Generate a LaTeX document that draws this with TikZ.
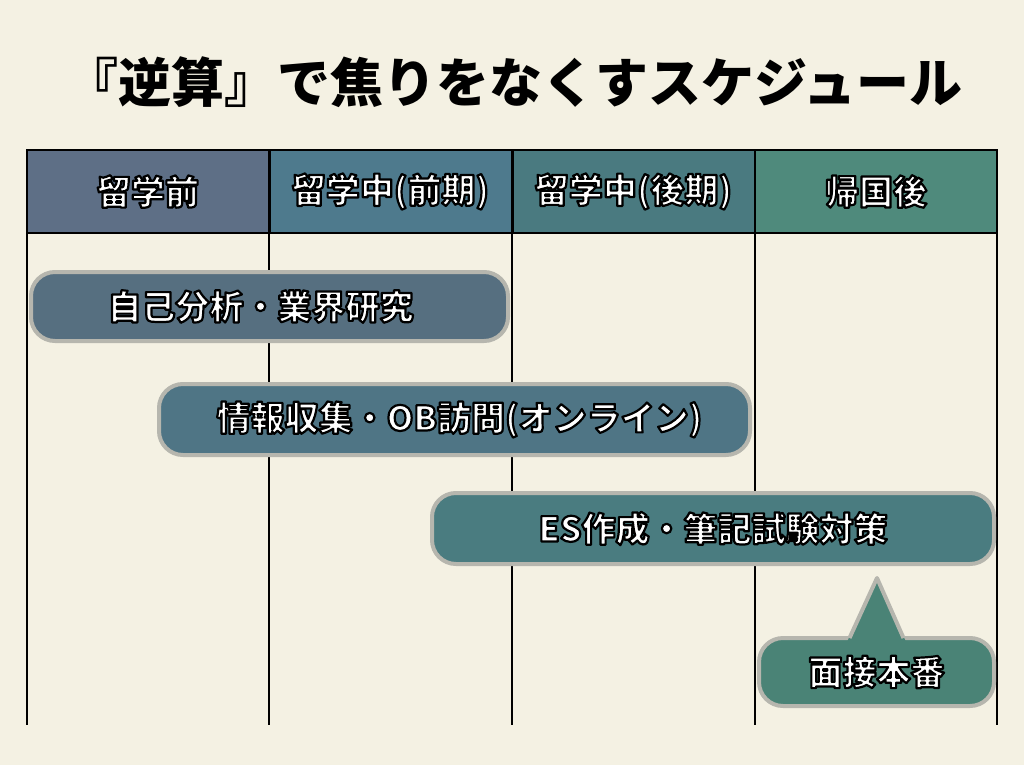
\documentclass[tikz,border=0pt]{standalone}
\usepackage{fontspec}
\setmainfont{Noto Sans CJK JP}
\usepackage{tikz}
\usetikzlibrary{positioning}
\usepackage{xcolor}
\definecolor{bgcream}{HTML}{F4F1E3}
\definecolor{headA}{HTML}{5E6F86}
\definecolor{headB}{HTML}{4E7A8D}
\definecolor{headC}{HTML}{4A7A80}
\definecolor{headD}{HTML}{4F8A7C}
\definecolor{barA}{HTML}{566F80}
\definecolor{barB}{HTML}{4F7585}
\definecolor{barC}{HTML}{4A7C80}
\definecolor{barD}{HTML}{4A8376}
\definecolor{barline}{HTML}{B6B6AE}
% white letters with a thin black rim
\newcommand{\outlined}[1]{\special{pdf:literal direct 1 j 2.2 w 0 G 2 Tr}#1\special{pdf:literal direct 0 Tr 0.4 w 0 j}}

\begin{document}
\begin{tikzpicture}[x=1pt, y=-1pt,
  head/.style={draw=black, line width=2pt, minimum width=242pt,
    minimum height=83pt, inner sep=0pt, outer sep=0pt, text=white,
    font=\fontsize{34}{38}\selectfont\bfseries},
  bar/.style={draw=barline, line width=4pt, rounded corners=24pt,
    inner sep=0pt, outer sep=0pt, minimum height=70pt, text=white,
    font=\fontsize{34}{38}\selectfont\bfseries},
  col/.style={line width=2pt}
]

% Page
\fill[bgcream] (0,0) rectangle (1024,765);
\useasboundingbox (0,0) rectangle (1024,765);

% Title
\node[font=\fontsize{53}{58}\selectfont\bfseries] (title) at (514,82)
  {『逆算』で焦りをなくすスケジュール};

% Header row: four phases
\node[head, fill=headA] (pre) at (148,191.5) {\outlined{留学前}};
\node[head, fill=headB] (early) at (390.5,191.5) {\outlined{留学中(前期)}};
\node[head, fill=headC] (late) at (633.5,191.5) {\outlined{留学中(後期)}};
\node[head, fill=headD] (post) at (876,191.5) {\outlined{帰国後}};

% Column lines
\coordinate (bot) at (0,725);
\foreach \c/\a in {pre/south west, pre/south east, early/south east,
  late/south east, post/south east}
  \draw[col] (\c.\a) -- (\c.\a |- bot);

% Tasks
\node[bar, fill=barA, minimum width=477pt, minimum height=69pt] (analysis)
  at (269.5,306.5) {\hspace*{-18pt}\outlined{自己分析・業界研究}};
\node[bar, fill=barB, minimum width=591pt, minimum height=71pt] (info)
  at (454.5,419.5) {\hspace*{10pt}\outlined{情報収集・OB訪問(オンライン)}};
\node[bar, fill=barC, minimum width=562pt, minimum height=71pt] (es)
  at (713,528.5) {\outlined{ES作成・筆記試験対策}};

% Interview with pointer
\node[bar, fill=barD, minimum width=235pt, minimum height=68pt] (interview)
  at (876.5,672) {\outlined{面接本番}};
\coordinate (tip) at (877,578);
\fill[barD] ([xshift=-30pt,yshift=-5pt]interview.north) -- (tip)
  -- ([xshift=30pt,yshift=-5pt]interview.north) -- cycle;
\draw[barline, line width=4pt, line join=round]
  ([xshift=-27pt]interview.north) -- (tip) -- ([xshift=27pt]interview.north);

\end{tikzpicture}
\end{document}
